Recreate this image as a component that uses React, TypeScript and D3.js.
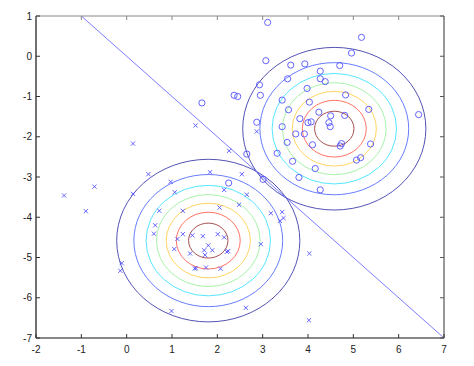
import React from "react";
import * as d3 from "d3";

// class 1 (x markers)
const class1X = [0.14, 0.48, -0.71, -1.38, 0.14, -0.9, 0.72, 0.63, 0.6, -0.11, -0.14,
  1.84, 2.54, 0.97, 1.06, 2.15, 2.65, 2.48, 1.24, 2.05,
  1.24, 1.45, 1.68, 2.01, 2.15, 1.8, 1.71, 1.89, 2.21, 2.24, 1.05, 1.4, 1.73, 1.12,
  1.5, 1.53, 1.75, 2.07, 2.96, 3.18, 3.43, 3.38, 3.46, 4.03,
  0.99, 2.63, 4.02, 2.87, 1.52, 2.26];
const class1Y = [-2.17, -2.93, -3.24, -3.46, -3.42, -3.85, -3.84, -4.2, -4.41, -5.14, -5.33,
  -2.88, -2.93, -3.12, -3.38, -3.32, -3.44, -3.69, -3.84, -3.76,
  -4.42, -4.45, -4.47, -4.42, -4.5, -4.7, -4.82, -4.82, -4.86, -4.84, -4.79, -4.9, -4.94, -4.54,
  -5.27, -5.27, -5.25, -5.28, -4.67, -3.9, -3.87, -4.09, -4.02, -4.9,
  -6.33, -6.25, -6.56, -1.87, -1.72, -2.35];

// class 2 (o markers)
const class2X = [3.11, 5.18, 4.96, 3.07, 3.62, 3.93, 4.7, 4.27, 3.55, 4.27, 4.38, 2.93, 3.98, 2.95, 2.37, 2.45, 4.83, 3.43, 4.03, 3.57, 5.34, 4.24, 4.5, 4.81, 3.82, 2.87, 4.0, 4.07, 4.46, 4.49, 3.43, 6.44,
  3.73, 3.92, 3.54, 4.1, 4.74, 4.71, 5.38, 3.32, 5.07, 5.16, 3.66, 4.16, 2.65, 3.8, 3.01, 4.27, 2.25, 1.66];
const class2Y = [0.84, 0.47, 0.08, -0.11, -0.22, -0.19, -0.23, -0.37, -0.56, -0.56, -0.63, -0.71, -0.8, -0.97, -0.97, -1.0, -0.96, -1.09, -1.14, -1.33, -1.32, -1.39, -1.48, -1.47, -1.55, -1.64, -1.65, -1.63, -1.65, -1.75, -1.75, -1.45,
  -1.93, -1.93, -2.14, -2.2, -2.17, -2.23, -2.18, -2.41, -2.58, -2.52, -2.61, -2.79, -2.43, -3.01, -3.06, -3.32, -3.15, -1.16];

// Gaussian means (class 1, class 2), unit sigma
const meanX = [1.8, 4.58];
const meanY = [-4.58, -1.8];
const sigma = 1;
// contour levels as fraction of the peak density (outer to inner)
const contourLevels = [0.13, 0.26, 0.39, 0.52, 0.65, 0.78, 0.91];
const contourColors = ["#3434a6", "#4a66ff", "#38e0ff", "#98f098", "#ffcc44", "#ff5a4a", "#963030"];

// decision boundary y = -x
const boundaryX = [-1, 7];

const xTicks = [-2, -1, 0, 1, 2, 3, 4, 5, 6, 7];
const yTicks = [1, 0, -1, -2, -3, -4, -5, -6, -7];

export default function App() {
  const W = 474, H = 366;
  const x = d3.scaleLinear().domain([-2, 7]).range([36, 444]);
  const y = d3.scaleLinear().domain([-7, 1]).range([338, 16]);
  const x0 = x(-2), x1 = x(7), y0 = y(-7), y1 = y(1);
  const markColor = "#4a4aff";
  const font = "'Liberation Sans', Arial, sans-serif";
  const line = d3.line<number>().x((d) => x(d)).y((d) => y(-d));

  return (
    <svg width={W} height={H} style={{ position: "absolute", left: 0, top: 0, background: "#fff" }}>
      <defs>
        <clipPath id="plot">
          <rect x={x0} y={y1} width={x1 - x0} height={y0 - y1} />
        </clipPath>
      </defs>
      <g clipPath="url(#plot)">
        {meanX.map((mx, ci) =>
          contourLevels.map((lv, li) => {
            const r = sigma * Math.sqrt(-2 * Math.log(lv));
            return (
              <ellipse key={`c${ci}-${li}`} cx={x(mx)} cy={y(meanY[ci])}
                rx={x(mx + r) - x(mx)} ry={y(meanY[ci] - r) - y(meanY[ci])}
                fill="none" stroke={contourColors[li]} strokeWidth={0.85} />
            );
          })
        )}
        <path d={line(boundaryX) || ""} fill="none" stroke="#6464ff" strokeWidth={0.85} />
        {class1X.map((vx, i) => {
          const cx = x(vx), cy = y(class1Y[i]), s = 2.1;
          return (
            <path key={`x${i}`} d={`M${cx - s},${cy - s}L${cx + s},${cy + s}M${cx - s},${cy + s}L${cx + s},${cy - s}`}
              stroke={markColor} strokeWidth={0.85} fill="none" />
          );
        })}
        {class2X.map((vx, i) => (
          <circle key={`o${i}`} cx={x(vx)} cy={y(class2Y[i])} r={3.1} fill="none" stroke={markColor} strokeWidth={0.85} />
        ))}
      </g>
      {/* frame */}
      <line x1={x0} y1={y1} x2={x1} y2={y1} stroke="#888" strokeWidth={1} />
      <line x1={x1} y1={y1} x2={x1} y2={y0} stroke="#333" strokeWidth={1} />
      <line x1={x0} y1={y0} x2={x1} y2={y0} stroke="#111" strokeWidth={1.2} />
      <line x1={x0} y1={y1} x2={x0} y2={y0} stroke="#111" strokeWidth={1.2} />
      {xTicks.map((t) => (
        <g key={`xt${t}`}>
          <line x1={x(t)} x2={x(t)} y1={y0} y2={y0 - 4} stroke="#333" />
          <line x1={x(t)} x2={x(t)} y1={y1} y2={y1 + 4} stroke="#888" />
          <text x={x(t)} y={y0 + 15} textAnchor="middle" fontFamily={font} fontSize={10} fill="#222">{t}</text>
        </g>
      ))}
      {yTicks.map((t) => (
        <g key={`yt${t}`}>
          <line x1={x0} x2={x0 + 4} y1={y(t)} y2={y(t)} stroke="#333" />
          <line x1={x1} x2={x1 - 4} y1={y(t)} y2={y(t)} stroke="#555" />
          <text x={x0 - 4} y={y(t) + 3.5} textAnchor="end" fontFamily={font} fontSize={10} fill="#222">{t}</text>
        </g>
      ))}
    </svg>
  );
}
